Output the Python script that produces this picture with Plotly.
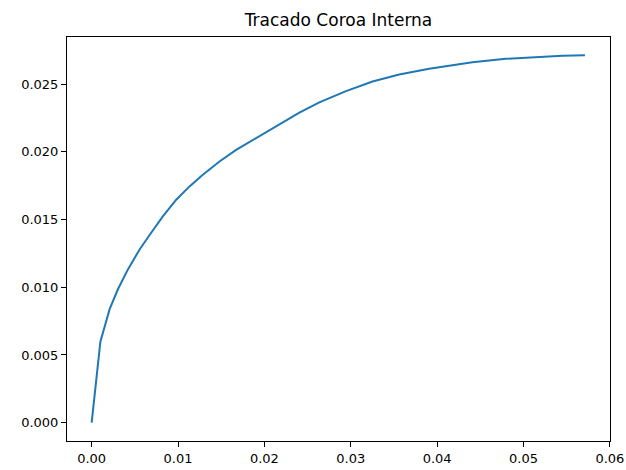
import plotly.graph_objects as go

x_vals = [0.0, 0.00101, 0.00208, 0.00304, 0.0042, 0.00555, 0.00671, 0.00824, 0.00979,
          0.01133, 0.01287, 0.0148, 0.01673, 0.01865, 0.02058, 0.02289, 0.02405,
          0.02636, 0.02945, 0.03252, 0.03561, 0.03908, 0.04254, 0.04408, 0.04794,
          0.05179, 0.0545, 0.05711]
y_vals = [0.0, 0.00598, 0.00838, 0.00985, 0.01132, 0.01279, 0.01386, 0.01524, 0.01647,
          0.01745, 0.01831, 0.01929, 0.02015, 0.02088, 0.02162, 0.02248, 0.0229,
          0.02366, 0.02449, 0.0252, 0.02571, 0.02614, 0.02648, 0.02662, 0.02688,
          0.02704, 0.0271, 0.02713]

title_text = "Tracado Coroa Interna"

fig = go.Figure()
fig.add_trace(go.Scatter(x=x_vals, y=y_vals, mode="lines",
                         line=dict(color="#1f77b4", width=2), showlegend=False))

xr = max(x_vals) - min(x_vals)
yr = max(y_vals) - min(y_vals)

axis_common = dict(showline=True, linecolor="black", linewidth=1, mirror=True,
                   ticks="outside", ticklen=5, tickwidth=1, tickcolor="black",
                   showgrid=False, zeroline=False, automargin=False,
                   tickfont=dict(family="DejaVu Sans", size=13, color="black"))

fig.update_layout(
    width=626, height=470,
    margin=dict(l=67, r=16, t=37, b=29),
    paper_bgcolor="white", plot_bgcolor="white",
    title=dict(text=title_text, xref="paper", x=0.5, xanchor="center",
               y=1 - 20/470, yanchor="middle",
               font=dict(family="DejaVu Sans", size=17, color="black"), automargin=False),
    xaxis=dict(range=[min(x_vals) - 0.05*xr, max(x_vals) + 0.05*xr + 0.00005],
               dtick=0.01, tick0=0, tickformat=".2f", **axis_common),
    yaxis=dict(range=[min(y_vals) - 0.05*yr, max(y_vals) + 0.05*yr],
               dtick=0.005, tick0=0, tickformat=".3f", **axis_common),
)

fig.write_html("out.html", config={"displayModeBar": False},
               post_script="document.body.style.margin='0';document.body.style.overflow='hidden';")
